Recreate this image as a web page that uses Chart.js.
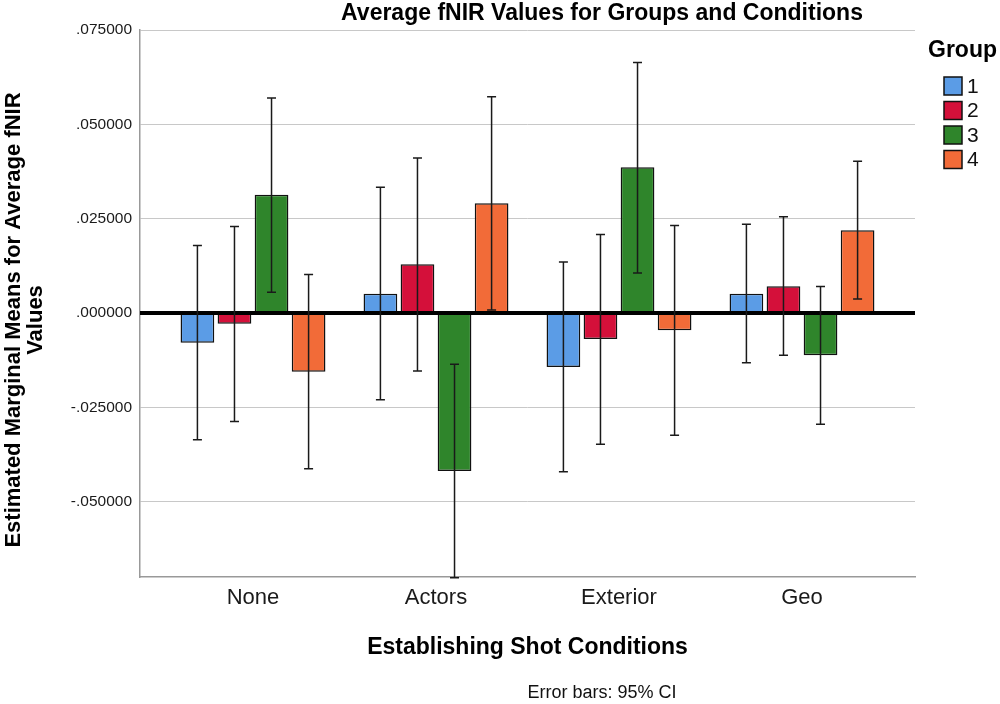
<!DOCTYPE html>
<html>
<head>
<meta charset="utf-8">
<script src="https://cdn.jsdelivr.net/npm/chart.js@4.4.1/dist/chart.umd.min.js"></script>
<style>
  html, body { margin: 0; padding: 0; background: #fff; }
  #wrap { width: 1000px; height: 704px; }
</style>
</head>
<body>
<div id="wrap"><canvas id="fnirChart"></canvas></div>
<script>
const conditions = ['None', 'Actors', 'Exterior', 'Geo']
const groups = ['1', '2', '3', '4']
const groupColors = ['#5b9ce6', '#d4103a', '#2f852b', '#f26b38']

// estimated marginal means per group (None, Actors, Exterior, Geo)
const group1Means = [-0.0079, 0.0051, -0.0143, 0.0051]
const group2Means = [-0.0029, 0.0129, -0.0069, 0.0071]
const group3Means = [0.0313, -0.0419, 0.0386, -0.0112]
const group4Means = [-0.0156, 0.0291, -0.0046, 0.0219]

// 95% CI bounds
const group1Low = [-0.0336, -0.0230, -0.0421, -0.0132]
const group1High = [0.0179, 0.0333, 0.0135, 0.0235]
const group2Low = [-0.0288, -0.0154, -0.0348, -0.0112]
const group2High = [0.0229, 0.0411, 0.0208, 0.0255]
const group3Low = [0.0055, -0.0702, 0.0106, -0.0295]
const group3High = [0.0570, -0.0136, 0.0664, 0.0070]
const group4Low = [-0.0413, 0.0008, -0.0324, 0.0037]
const group4High = [0.0102, 0.0573, 0.0232, 0.0402]

const yTickStep = 0.025

const fontFamily = '"Liberation Sans", Arial, sans-serif'
Chart.defaults.font.family = fontFamily
Chart.defaults.color = '#000'

const means = [group1Means, group2Means, group3Means, group4Means]
const lows = [group1Low, group2Low, group3Low, group4Low]
const highs = [group1High, group2High, group3High, group4High]

const formatTick = (v) => {
  const s = Math.abs(v).toFixed(6).replace(/^0/, '')
  return v < -1e-9 ? '-' + s : s
}

// error bars + the heavy zero line, drawn on top of the bars
const errorBarPlugin = {
  id: 'errorBars',
  afterDatasetsDraw(chart) {
    const ctx = chart.ctx
    const yScale = chart.scales.y
    const area = chart.chartArea
    ctx.save()
    ctx.beginPath()
    ctx.rect(area.left, area.top - 2, area.right - area.left, area.bottom - area.top + 4)
    ctx.clip()

    const y0 = yScale.getPixelForValue(0)
    ctx.strokeStyle = '#000'
    ctx.lineWidth = 4
    ctx.beginPath()
    ctx.moveTo(area.left, y0)
    ctx.lineTo(area.right, y0)
    ctx.stroke()

    ctx.strokeStyle = '#1a1a1a'
    ctx.lineWidth = 1.5
    chart.data.datasets.forEach((ds, i) => {
      const meta = chart.getDatasetMeta(i)
      meta.data.forEach((bar, j) => {
        const yLo = yScale.getPixelForValue(ds.errLow[j])
        const yHi = yScale.getPixelForValue(ds.errHigh[j])
        ctx.beginPath()
        ctx.moveTo(bar.x, yLo)
        ctx.lineTo(bar.x, yHi)
        ctx.moveTo(bar.x - 4.5, yLo)
        ctx.lineTo(bar.x + 4.5, yLo)
        ctx.moveTo(bar.x - 4.5, yHi)
        ctx.lineTo(bar.x + 4.5, yHi)
        ctx.stroke()
      })
    })
    ctx.restore()
  }
}

// title, y title, footnote and the legend box on the right
const textPlugin = {
  id: 'texts',
  afterDraw(chart) {
    const ctx = chart.ctx
    ctx.save()
    ctx.fillStyle = '#000'
    ctx.textBaseline = 'middle'

    ctx.textAlign = 'center'
    ctx.font = 'bold 23px ' + fontFamily
    ctx.fillText('Average fNIR Values for Groups and Conditions', 602, 14)

    ctx.save()
    ctx.translate(0, 320)
    ctx.rotate(-Math.PI / 2)
    ctx.font = 'bold 22px ' + fontFamily
    ctx.fillText('Estimated Marginal Means for Average fNIR', 0, 14)
    ctx.fillText('Values', 0, 36)
    ctx.restore()

    ctx.font = '18px ' + fontFamily
    ctx.fillStyle = '#111'
    ctx.fillText('Error bars: 95% CI', 602, 693)

    ctx.textAlign = 'left'
    ctx.fillStyle = '#000'
    ctx.font = 'bold 23px ' + fontFamily
    ctx.fillText('Group', 928, 51)

    ctx.font = '21px ' + fontFamily
    chart.data.datasets.forEach((ds, i) => {
      const top = 77 + i * 24.5
      ctx.fillStyle = ds.backgroundColor
      ctx.fillRect(944, top, 18, 18)
      ctx.strokeStyle = '#111'
      ctx.lineWidth = 1.5
      ctx.strokeRect(944, top, 18, 18)
      ctx.fillStyle = '#111'
      ctx.fillText(ds.label, 967, top + 10)
    })
    ctx.restore()
  }
}

const data = {
  labels: conditions,
  datasets: groups.map((g, i) => ({
    label: g,
    data: means[i],
    errLow: lows[i],
    errHigh: highs[i],
    backgroundColor: groupColors[i],
    borderColor: '#111',
    borderWidth: 1.5,
    borderSkipped: false,
    categoryPercentage: 0.81,
    barPercentage: 0.91
  }))
}

const config = {
  type: 'bar',
  data: data,
  plugins: [errorBarPlugin, textPlugin],
  options: {
    responsive: true,
    maintainAspectRatio: false,
    animation: false,
    layout: { padding: { left: 0, right: 85, top: 30, bottom: 0 } },
    plugins: {
      legend: { display: false },
      title: { display: false },
      tooltip: { enabled: false }
    },
    scales: {
      x: {
        offset: true,
        grid: { color: 'rgba(0,0,0,0)', drawTicks: false },
        border: { color: '#999', width: 1.5 },
        ticks: { padding: 8, color: '#1a1a1a', font: { size: 22 } },
        // a bit of extra room outside the first and last group, as in the original
        afterBuildTicks: (s) => { s._startValue = -0.6175; s._valueRange = 4.235 },
        afterFit: (s) => { s.height = 127 },
        title: {
          display: true,
          text: 'Establishing Shot Conditions',
          color: '#000',
          font: { size: 23, weight: 'bold' },
          padding: { top: 0, bottom: 43 }
        }
      },
      y: {
        min: -0.07,
        max: 0.075,
        ticks: {
          stepSize: yTickStep,
          padding: 8,
          color: '#1a1a1a',
          font: { size: 15.5 },
          callback: (v) => formatTick(v)
        },
        afterBuildTicks: (s) => {
          s.ticks = s.ticks.filter(t => Math.abs(t.value / yTickStep - Math.round(t.value / yTickStep)) < 1e-6)
        },
        afterFit: (s) => { s.width = 140 },
        grid: { color: '#c8c8c8', lineWidth: 1, drawTicks: false },
        border: { color: '#999', width: 1.5 }
      }
    }
  }
}

const fnirChart = new Chart(document.getElementById('fnirChart'), config)
</script>
</body>
</html>
